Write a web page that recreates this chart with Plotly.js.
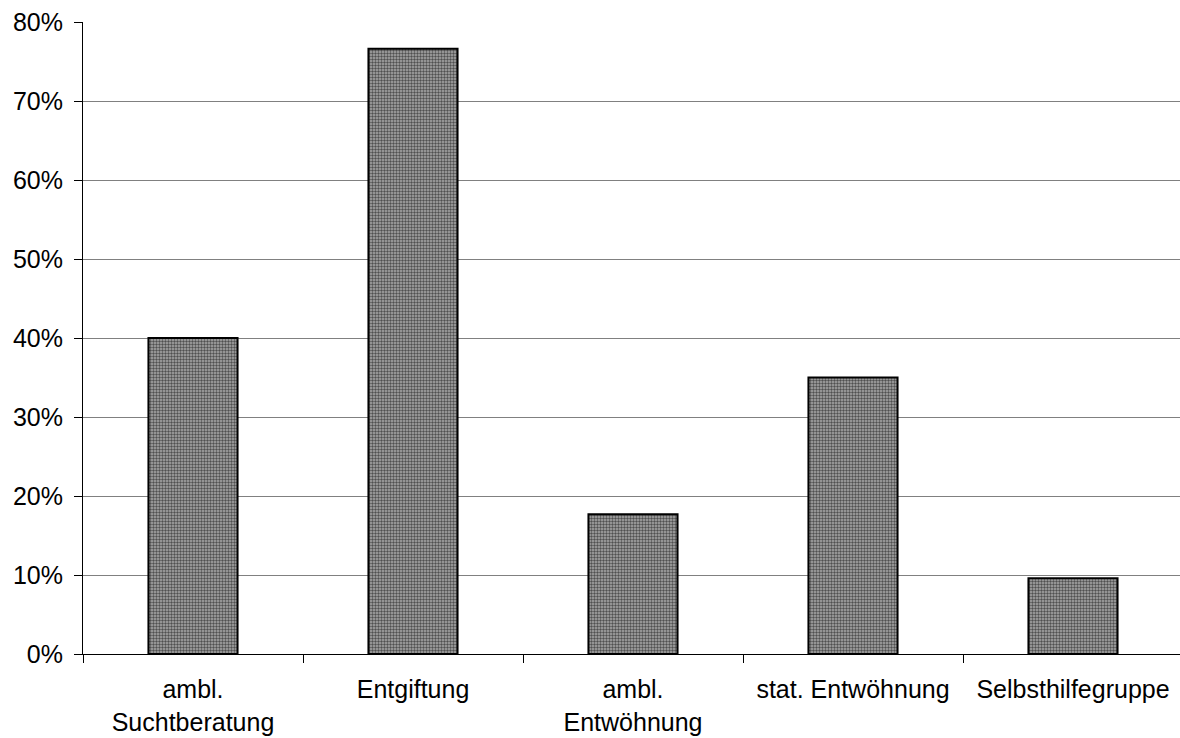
<!DOCTYPE html>
<html>
<head>
<meta charset="utf-8">
<script src="https://cdn.plot.ly/plotly-3.0.1.min.js"></script>
<style>
  html, body { margin: 0; padding: 0; background: #fff; overflow: hidden; }
  #chart { width: 1183px; height: 738px; }
</style>
</head>
<body>
<div id="chart"></div>
<script>
// Share of respondents per type of help used
const categories = [
  'ambl.<br>Suchtberatung',
  'Entgiftung',
  'ambl.<br>Entwöhnung',
  'stat. Entwöhnung',
  'Selbsthilfegruppe'
];
const shares = [0.40, 0.766, 0.177, 0.35, 0.096];
const yTickValues = [0, 0.1, 0.2, 0.3, 0.4, 0.5, 0.6, 0.7, 0.8];

const trace = {
  type: 'bar',
  x: categories,
  y: shares,
  hoverinfo: 'x+y',
  marker: {
    color: '#888888',
    line: { color: '#000', width: 2 },
    pattern: {
      shape: '.',
      size: 3,
      solidity: 0.5,
      fgcolor: '#505050',
      bgcolor: '#ababab',
      fillmode: 'replace'
    }
  }
};

const layout = {
  width: 1183,
  height: 738,
  margin: { l: 83, r: 0, t: 22, b: 84, pad: 0 },
  paper_bgcolor: '#fff',
  plot_bgcolor: '#fff',
  showlegend: false,
  bargap: 0.595,
  font: { family: 'Liberation Sans, Arial, sans-serif', size: 25, color: '#000' },
  xaxis: {
    type: 'category',
    tickson: 'boundaries',
    ticks: 'outside',
    ticklen: 8,
    tickcolor: '#000',
    tickwidth: 1,
    ticklabelstandoff: 13,
    tickfont: { size: 25 },
    showline: true,
    linecolor: '#000',
    linewidth: 1,
    showgrid: false,
    zeroline: false,
    fixedrange: true
  },
  yaxis: {
    range: [0, 0.8],
    tickvals: yTickValues,
    tickformat: '.0%',
    ticks: 'outside',
    ticklen: 8,
    tickcolor: '#000',
    tickwidth: 1,
    ticklabelstandoff: 6,
    tickfont: { size: 25 },
    showline: true,
    linecolor: '#000',
    linewidth: 1,
    showgrid: true,
    gridcolor: '#808080',
    gridwidth: 1,
    zeroline: false,
    fixedrange: true
  }
};

Plotly.newPlot('chart', [trace], layout, { displayModeBar: false, staticPlot: true });
</script>
</body>
</html>
